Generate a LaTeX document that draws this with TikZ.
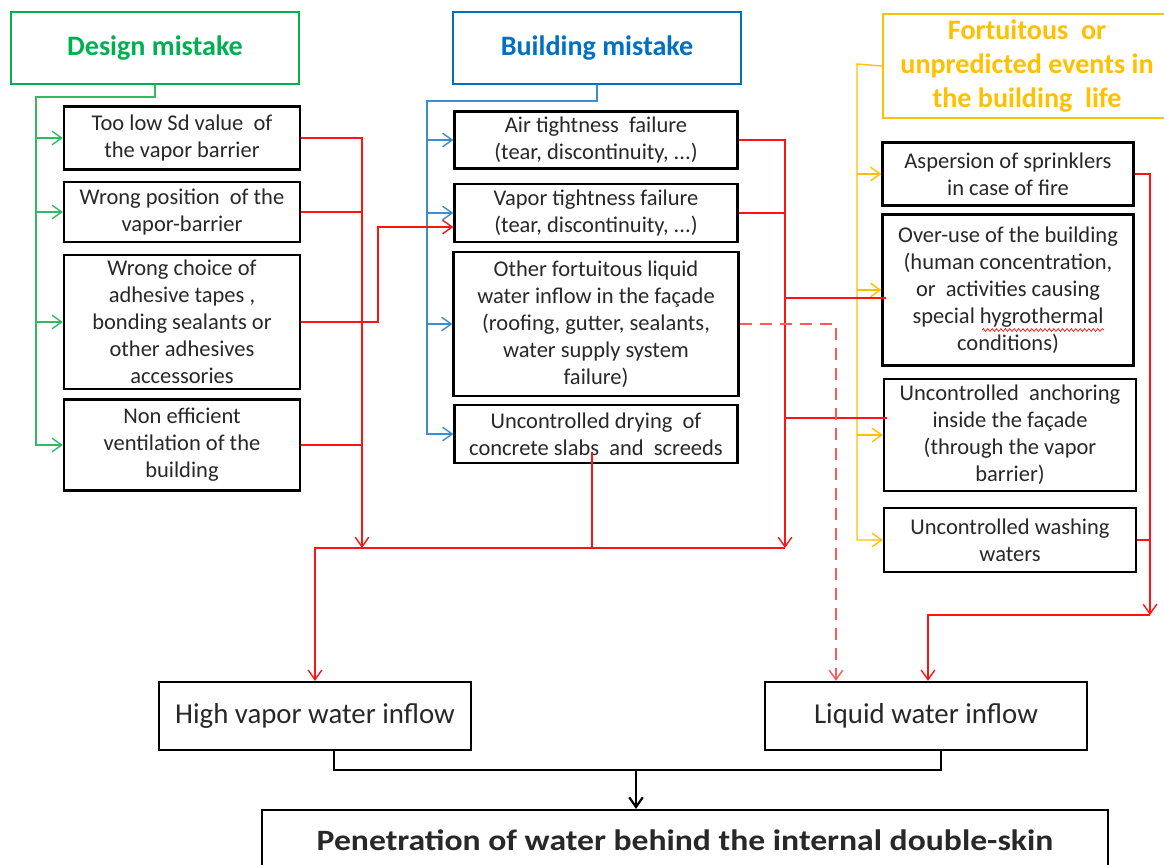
\documentclass[tikz,border=0pt]{standalone}
\usepackage{fontspec}
\setmainfont{Carlito}
\usetikzlibrary{arrows.meta,decorations.pathmorphing}
\definecolor{dsgnG}{RGB}{0,176,80}
\definecolor{bldB}{RGB}{0,112,192}
\definecolor{evtY}{RGB}{255,192,0}
\definecolor{linkR}{RGB}{255,20,20}
\definecolor{linkG}{RGB}{50,185,100}
\definecolor{linkB}{RGB}{60,140,210}
\definecolor{txtK}{RGB}{40,40,40}

\begin{document}
\begin{tikzpicture}[x=0.25mm, y=-0.25mm, >={Straight Barb[length=2.4mm,width=3.4mm]},
  ttl/.style={rectangle, line width=1.6pt, fill=white, align=center, inner sep=2pt,
              font=\fontsize{20}{24.2}\selectfont\bfseries, minimum width=72mm, minimum height=18mm},
  cause/.style={rectangle, draw=black, line width=1.6pt, fill=white, align=center, inner sep=1pt,
                text=txtK, font=\fontsize{16}{19.2}\selectfont},
  inflow/.style={rectangle, draw=black, line width=1.6pt, fill=white, text=txtK,
                 font=\fontsize{20.5}{24}\selectfont, minimum height=17mm},
  final/.style={rectangle, draw=black, line width=1.6pt, fill=white, text=txtK,
                font=\fontsize{21}{24}\selectfont\bfseries, minimum width=211.5mm, minimum height=15mm},
  glink/.style={draw=linkG, line width=1pt},
  blink/.style={draw=linkB, line width=1pt},
  ylink/.style={draw=evtY, line width=1pt},
  rlink/.style={draw=linkR, line width=1pt},
  klink/.style={draw=black, line width=1.6pt}]
  \useasboundingbox (0,0) rectangle (1164,864);
  \clip (0,0) rectangle (1164,864);

  \node[ttl, draw=dsgnG, text=dsgnG] (dsgn) at (155,48) {Design mistake};
  \node[ttl, draw=bldB, text=bldB] (bld) at (597,48) {Building mistake};
  \node[ttl, draw=evtY, text=evtY, minimum height=26mm] (evt) at (1027,66)
    {Fortuitous\ \ or\\ unpredicted events in\\ the building\ \ life};

  \node[cause, minimum width=59mm, minimum height=15.75mm] (l1) at (182,138)
    {Too low Sd value\ \ of\\ the vapor barrier};
  \node[cause, minimum width=59mm, minimum height=15mm] (l2) at (182,212)
    {Wrong position\ \ of the\\ vapor-barrier};
  \node[cause, minimum width=59mm, minimum height=33.5mm] (l3) at (182,322)
    {Wrong choice of\\ adhesive tapes ,\\ bonding sealants or\\ other adhesives\\ accessories};
  \node[cause, minimum width=59mm, minimum height=22.75mm] (l4) at (182,445)
    {Non efficient\\ ventilation of the\\ building};

  \node[cause, minimum width=70.75mm, minimum height=14.25mm] (m1) at (596,140)
    {Air tightness\ \ failure\\ (tear, discontinuity, ...)};
  \node[cause, minimum width=70.75mm, minimum height=14.5mm] (m2) at (596,213)
    {Vapor tightness failure\\ (tear, discontinuity, ...)};
  \node[cause, minimum width=71.25mm, minimum height=36mm] (m3) at (596,324)
    {Other fortuitous liquid\\ water inflow in the façade\\ (roofing, gutter, sealants,\\ water supply system\\ failure)};
  \node[cause, minimum width=70.75mm, minimum height=14.5mm] (m4) at (596,434)
    {Uncontrolled drying\ \ of\\ concrete slabs\ \ and\ \ screeds};

  \node[cause, minimum width=62.75mm, minimum height=15.75mm] (r1) at (1008,174)
    {Aspersion of sprinklers\\ in case of fire};
  \node[cause, minimum width=62.75mm, minimum height=37.75mm] (r2) at (1008,290)
    {Over-use of the building\\ (human concentration,\\ or\ \ activities causing\\ special hygrothermal\\ conditions)};
  \node[cause, minimum width=63mm, minimum height=28mm] (r3) at (1010,435)
    {Uncontrolled\ \ anchoring\\ inside the façade\\ (through the vapor\\ barrier)};
  \node[cause, minimum width=63mm, minimum height=16mm] (r4) at (1010,540)
    {Uncontrolled washing\\ waters};

  \node[inflow, minimum width=78mm] (hv) at (315,716) {High vapor water inflow};
  \node[inflow, minimum width=80.5mm] (lw) at (926,716) {Liquid water inflow};
  \node[final] (pn) at (685,840)
    {\scalebox{1.14}[1]{Penetration of water behind the internal double-skin}};

  \draw[linkR, line width=0.5pt, decorate, decoration={snake, amplitude=0.35mm, segment length=1.1mm}]
    (982,330) -- (1104,330);

  \coordinate (gbus) at (36,97);
  \draw[glink, ->] (dsgn.south) |- (gbus) |- (l4.west);
  \foreach \b in {l1,l2,l3} \draw[glink, ->] (gbus |- \b.west) -- (\b.west);

  \coordinate (bbus) at (427,101);
  \draw[blink, ->] (bld.south) |- (bbus) |- (m4.west);
  \foreach \b in {m1,m2,m3} \draw[blink, ->] (bbus |- \b.west) -- (\b.west);

  \coordinate (ybus) at (857,64);
  \draw[ylink, ->] (evt.west) -- (ybus) |- (r4.west);
  \foreach \b in {r1,r2,r3} \draw[ylink, ->] (ybus |- \b.west) -- (\b.west);

  \coordinate (lbus) at (362,548);
  \draw[rlink, ->] (l1.east) -| (lbus);
  \foreach \b in {l2,l4} \draw[rlink] (\b.east) -- (\b.east -| lbus);
  \draw[rlink, ->] (l3.east) -- ++(77,0) |- ([yshift=-3.5mm]m2.west);

  \coordinate (mbus) at (785,548);
  \coordinate (r2in) at ([yshift=-2mm]r2.west);
  \coordinate (r3in) at ([yshift=4.25mm]r3.west);
  \draw[rlink, ->] (m1.east) -| (mbus);
  \draw[rlink] (m2.east) -- (m2.east -| mbus);
  \draw[rlink] ([xshift=1.2mm]r2in) -- (r2in -| mbus);
  \draw[rlink] ([xshift=1mm]r3in) -- (r3in -| mbus);
  \draw[rlink] ([xshift=-1mm,yshift=3mm]m4.south) -- ([xshift=-1mm]m4.south |- mbus);
  \draw[rlink, ->] (mbus) -| (hv.north);

  \draw[rlink, draw=linkR!70, dash pattern=on 3mm off 2mm, ->] (m3.east) -| ([xshift=-22.5mm]lw.north);

  \coordinate (rbus) at (1150,615);
  \draw[rlink, ->] (r1.east) -| (rbus);
  \draw[rlink] (r4.east) -- (r4.east -| rbus);
  \draw[rlink, ->] (rbus) -| ([xshift=0.5mm]lw.north);

  \coordinate (kbus) at (636,770);
  \draw[klink] ([xshift=4.75mm]hv.south) |- (kbus) -| ([xshift=3.75mm]lw.south);
  \draw[klink, ->] (kbus) -- (kbus |- pn.north);
\end{tikzpicture}
\end{document}
